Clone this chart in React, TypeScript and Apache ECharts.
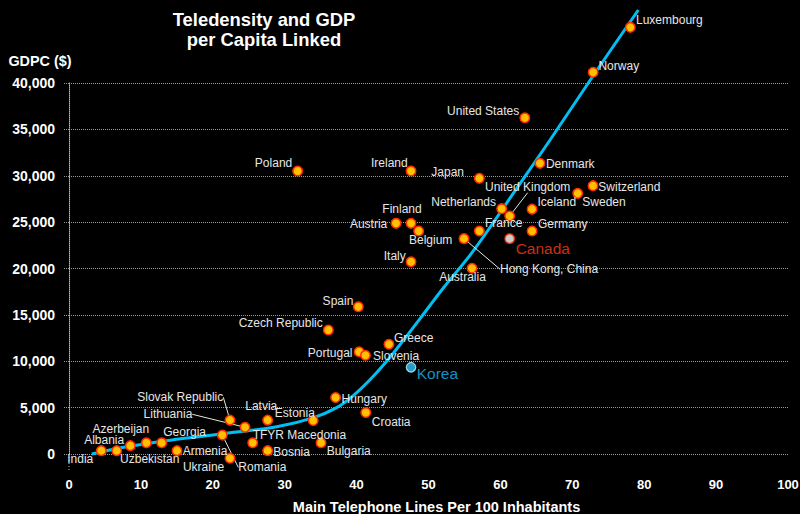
import React, { useEffect, useRef } from "react";
import * as echarts from "echarts";

// Main telephone lines per 100 inhabitants (x) and GDP per capita in $ (y)
const countries = [
  "Luxembourg", "Norway", "United States", "Denmark", "Switzerland", "Sweden",
  "Iceland", "Germany", "United Kingdom", "Netherlands", "France", "Japan",
  "Ireland", "Finland", "Austria", "Belgium", "Italy", "Poland", "Australia",
  "Hong Kong, China", "Spain", "Czech Republic", "Greece", "Portugal", "Slovenia",
  "Hungary", "Croatia", "Estonia", "Latvia", "Slovak Republic", "Lithuania",
  "Georgia", "Romania", "TFYR Macedonia", "Bosnia", "Bulgaria", "Armenia",
  "Ukraine", "Uzbekistan", "Azerbeijan", "Albania", "India",
];
const teledensity = [
  78.07, 72.9, 63.4, 65.5, 72.88, 70.75,
  64.4, 64.4, 61.29, 60.18, 57.07, 57.07,
  47.57, 47.57, 45.48, 48.63, 47.57, 31.8, 56.05,
  54.94, 40.24, 36.07, 44.5, 40.35, 41.23,
  37.08, 41.28, 33.96, 27.63, 22.39, 24.48,
  12.89, 21.32, 25.55, 27.63, 35.05, 15.02,
  22.39, 8.53, 10.76, 6.63, 4.49,
];
const gdpPerCapita = [
  46000, 41150, 36260, 31340, 28930, 28100,
  26400, 24040, 25660, 26450, 24040, 29720,
  30510, 24870, 24870, 24040, 20730, 30510, 20020,
  23220, 15880, 13370, 11830, 11030, 10640,
  6090, 4470, 3610, 3650, 3650, 2880,
  1220, 2040, 1220, 360, 1220, 360,
  -450, 900, 1220, 360, 360,
];

// Highlighted countries
const canada = { name: "Canada", x: 61.29, y: 23220 };
const korea = { name: "Korea", x: 47.57, y: 9350 };

// Fitted curve
const trendX = [3.16, 8.03, 14.98, 21.93, 28.89, 33.94, 37.23, 39.54, 41.86, 44.18, 46.5, 48.83, 52.06, 56.23, 61.79, 66.9, 72.88, 79.18];
const trendY = [0, 787, 1585, 2232, 2943, 3900, 5000, 6300, 8000, 10000, 12250, 14600, 17900, 21900, 28108, 33854, 40755, 47871];

// Tick values
const xTicks = [0, 10, 20, 30, 40, 50, 60, 70, 80, 90, 100];
const yTicks = [0, 5000, 10000, 15000, 20000, 25000, 30000, 35000, 40000];

// Label placement: [dx, dy, align, leaderLine]
const labelPlace: Record<string, [number, number, string, boolean?]> = {
  "Luxembourg": [5.7, -7.3, "left"],
  "Norway": [5.3, -6.3, "left"],
  "United States": [-5.7, -7, "right"],
  "Denmark": [6, 0.7, "left"],
  "Switzerland": [5.3, 1, "left"],
  "Sweden": [4.6, 8.7, "left"],
  "Iceland": [5.4, -7, "left"],
  "Germany": [6, -6.7, "left"],
  "United Kingdom": [-24.7, -29.3, "left", true],
  "Netherlands": [-5.7, -6.7, "right"],
  "France": [5.7, -7.7, "left"],
  "Japan": [-15.3, -6, "right"],
  "Ireland": [-3.3, -7.7, "right"],
  "Finland": [-9, -14.3, "center"],
  "Austria": [-8.7, 0.7, "right"],
  "Belgium": [-9.7, 9, "left"],
  "Italy": [-5.3, -6, "right"],
  "Poland": [-5.4, -7.7, "right"],
  "Australia": [-9.5, 8.4, "center"],
  "Hong Kong, China": [36, 30.6, "left", true],
  "Spain": [-5, -6, "right"],
  "Czech Republic": [-5.6, -7.3, "right"],
  "Greece": [5, -6, "left"],
  "Portugal": [-6.6, 1, "right"],
  "Slovenia": [7.6, 0.7, "left"],
  "Hungary": [6, 1.3, "left"],
  "Croatia": [6, 9.4, "left"],
  "Estonia": [1.7, -7.4, "right"],
  "Latvia": [-6.4, -14.6, "center"],
  "Slovak Republic": [-6.7, -23, "right", true],
  "Lithuania": [-52.7, -13, "right", true],
  "Georgia": [1.6, -10.4, "left"],
  "Romania": [16, 32.3, "left", true],
  "TFYR Macedonia": [0, -7.7, "left"],
  "Bosnia": [5.6, 1, "left"],
  "Bulgaria": [5.7, 8.3, "left"],
  "Armenia": [5.7, 0, "left"],
  "Ukraine": [-5.7, 9, "right"],
  "Uzbekistan": [19.4, 13.6, "center"],
  "Azerbeijan": [-25.5, -13.4, "center"],
  "Albania": [-12.5, -10.7, "center"],
  "India": [-8, 8.6, "right"],
  "Canada": [6, 9.6, "left"],
  "Korea": [5.7, 6.7, "left"],
};

const FONT = 'Arial, "Liberation Sans", sans-serif';

function layoutFor(names: string[]) {
  return (p: any) => {
    const o = labelPlace[names[p.dataIndex]] || [6, 0, "left"];
    return {
      x: p.rect.x + p.rect.width / 2 + o[0],
      y: p.rect.y + p.rect.height / 2 + o[1],
      align: o[2],
      verticalAlign: "middle",
    };
  };
}

export default function App() {
  const ref = useRef<HTMLDivElement>(null);

  useEffect(() => {
    document.body.style.margin = "0";
    document.body.style.background = "#000";
    const chart = echarts.init(ref.current!, undefined, { renderer: "svg" });

    const mainData = countries.map((c, i) => ({
      name: c,
      value: [teledensity[i], gdpPerCapita[i]],
      labelLine: { show: !!(labelPlace[c] && labelPlace[c][3]) },
    }));

    const option: any = {
      animation: false,
      backgroundColor: "#000000",
      textStyle: { fontFamily: FONT },
      grid: { left: 69, right: 12, top: 83, bottom: 60, containLabel: false, outerBoundsMode: "none" },
      xAxis: {
        type: "value",
        min: xTicks[0],
        max: xTicks[xTicks.length - 1],
        interval: 10,
        axisLine: { show: false },
        axisTick: { show: false },
        splitLine: { show: false },
        axisLabel: { color: "#ffffff", fontWeight: "bold", fontSize: 13, fontFamily: FONT, margin: 24 },
        name: "Main Telephone Lines Per 100 Inhabitants",
        nameLocation: "middle",
        nameGap: 45,
        nameTextStyle: { color: "#ffffff", fontWeight: "bold", fontSize: 14.5, fontFamily: FONT, padding: [0, 0, 0, 16] },
      },
      yAxis: {
        type: "value",
        min: yTicks[0],
        max: yTicks[yTicks.length - 1],
        interval: 5000,
        axisLine: { show: true, lineStyle: { color: "#bbbbbb", type: "dotted", width: 1 } },
        axisTick: { show: true, length: 5, lineStyle: { color: "#999999", type: "dotted" } },
        splitLine: { show: true, lineStyle: { color: "#999999", type: "dotted", width: 1 } },
        axisLabel: {
          color: "#ffffff",
          fontWeight: "bold",
          fontSize: 14,
          fontFamily: FONT,
          margin: 14,
          formatter: (v: number) => v.toLocaleString("en-US"),
        },
      },
      graphic: [
        {
          type: "text",
          x: 264,
          y: 29,
          style: {
            text: "Teledensity and GDP\nper Capita Linked",
            fill: "#ffffff",
            font: `bold 18.4px ${FONT}`,
            align: "center",
            verticalAlign: "middle",
            lineHeight: 20,
          },
        },
        {
          type: "text",
          x: 40,
          y: 61,
          style: {
            text: "GDPC ($)",
            fill: "#ffffff",
            font: `bold 14.4px ${FONT}`,
            align: "center",
            verticalAlign: "middle",
          },
        },
        {
          type: "line",
          shape: { x1: 69, y1: 454, x2: 69, y2: 470 },
          style: { stroke: "#bbbbbb", lineWidth: 1, lineDash: [1, 2] },
        },
      ],
      series: [
        {
          type: "line",
          data: trendX.map((x, i) => [x, trendY[i]]),
          smooth: 0.4,
          showSymbol: false,
          symbol: "none",
          clip: false,
          lineStyle: { color: "#00bff3", width: 3 },
          z: 1,
          silent: true,
        },
        {
          type: "scatter",
          data: mainData,
          clip: false,
          symbol: "circle",
          symbolSize: 9.5,
          itemStyle: { color: "#ffc000", borderColor: "#ff2a00", borderWidth: 1.5, opacity: 1 },
          label: {
            show: true,
            formatter: "{b}",
            color: "#e6e6e6",
            fontSize: 12,
            fontFamily: FONT,
          },
          labelLine: { show: false, lineStyle: { color: "#e6e6e6", width: 1 } },
          labelLayout: layoutFor(countries),
          z: 3,
        },
        {
          type: "scatter",
          data: [{ name: canada.name, value: [canada.x, canada.y] }],
          clip: false,
          symbol: "circle",
          symbolSize: 9.5,
          itemStyle: { color: "#ffffff", borderColor: "#ff2a00", borderWidth: 1.5 },
          label: { show: true, formatter: "{b}", color: "#ff3b1a", fontSize: 15.5, fontFamily: FONT },
          labelLayout: layoutFor([canada.name]),
          z: 3,
        },
        {
          type: "scatter",
          data: [{ name: korea.name, value: [korea.x, korea.y] }],
          clip: false,
          symbol: "circle",
          symbolSize: 9.5,
          itemStyle: { color: "#33c6f5", borderColor: "#bfefff", borderWidth: 1.2 },
          label: { show: true, formatter: "{b}", color: "#18b8f5", fontSize: 15.5, fontFamily: FONT },
          labelLayout: layoutFor([korea.name]),
          z: 3,
        },
      ],
    };

    chart.setOption(option);
    return () => chart.dispose();
  }, []);

  return (
    <div
      ref={ref}
      style={{ position: "fixed", left: 0, top: 0, width: 800, height: 514, background: "#000" }}
    />
  );
}
